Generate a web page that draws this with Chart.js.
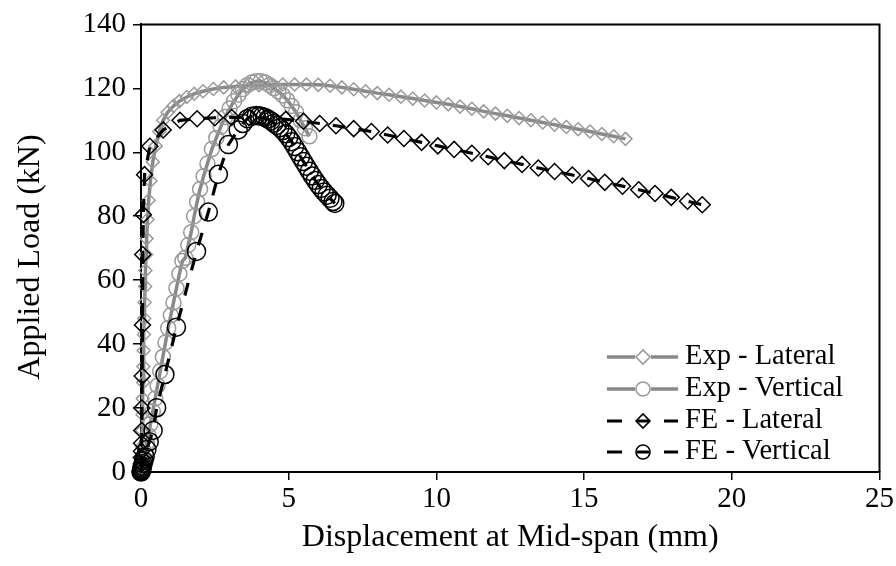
<!DOCTYPE html>
<html>
<head>
<meta charset="utf-8">
<script src="https://cdn.jsdelivr.net/npm/chart.js@4.4.1/dist/chart.umd.min.js"></script>
<style>
    html, body { margin: 0; padding: 0; background: #fff; }
</style>
</head>
<body>
<canvas id="chart" width="896" height="566"></canvas>
<script>
// series (displacement mm, load kN)
const seriesNames = ["Exp - Lateral", "Exp - Vertical", "FE - Lateral", "FE - Vertical"]

const expLatX = [0, 0.02, 0.03, 0.04, 0.05, 0.06, 0.07, 0.08, 0.09, 0.1, 0.11, 0.12, 0.14, 0.15, 0.17, 0.19, 0.22, 0.26, 0.32, 0.4, 0.5, 0.62, 0.75, 0.9, 1.1, 1.3, 1.55, 1.8, 2.1, 2.45, 2.8, 3.2, 3.6, 4.0, 4.4, 4.8, 5.2, 5.6, 6.0, 6.4, 6.8, 7.2, 7.6, 8.0, 8.4, 8.8, 9.2, 9.6, 10.0, 10.4, 10.8, 11.2, 11.6, 12.0, 12.4, 12.8, 13.2, 13.6, 14.0, 14.4, 14.8, 15.2, 15.6, 16.0, 16.4]
const expLatY = [0, 4, 8, 13, 18, 23, 28, 33, 38, 43, 48, 53, 58, 63, 68, 73, 79, 85, 91, 97, 102, 106.5, 110, 112.5, 114.5, 116, 117.3, 118.3, 119.1, 119.8, 120.3, 120.6, 120.8, 121, 121.1, 121.2, 121.2, 121.2, 121.1, 120.8, 120.3, 119.7, 119.1, 118.5, 118, 117.4, 116.8, 116.2, 115.6, 115, 114.3, 113.6, 112.8, 112.1, 111.4, 110.7, 110, 109.3, 108.6, 107.9, 107.2, 106.5, 105.7, 105, 104.2]

const expVerX = [0, 0.05, 0.1, 0.15, 0.2, 0.25, 0.32, 0.4, 0.48, 0.56, 0.65, 0.74, 0.83, 0.92, 1.01, 1.1, 1.2, 1.3, 1.4, 1.5, 1.6, 1.7, 1.8, 1.9, 2.0, 2.12, 2.25, 2.4, 2.55, 2.7, 2.85, 3.0, 3.15, 3.3, 3.45, 3.6, 3.75, 3.9, 4.05, 4.2, 4.35, 4.5, 4.65, 4.8, 4.95, 5.1, 5.25, 5.4, 5.55, 5.7]
const expVerY = [0, 1.5, 3.5, 6, 9, 11.5, 15, 19, 23, 27, 31.5, 36, 40.5, 45, 49, 53, 57.5, 62, 66, 67, 71, 75, 80, 84.5, 88.5, 92.5, 96.5, 101, 104.5, 108, 111, 113.7, 116, 118, 119.8, 121, 121.8, 122.2, 122.2, 121.8, 121, 120, 119, 117.8, 116.3, 114.5, 112.5, 110, 107.5, 105]

const feLatX = [0, 0.005, 0.01, 0.01, 0.015, 0.02, 0.025, 0.03, 0.04, 0.05, 0.06, 0.08, 0.12, 0.3, 0.75, 1.32, 1.9, 2.5, 3.07, 3.65, 4.25, 4.9, 5.5, 6.05, 6.6, 7.2, 7.8, 8.35, 8.9, 9.5, 10.05, 10.6, 11.2, 11.75, 12.3, 12.9, 13.45, 14.0, 14.6, 15.15, 15.7, 16.3, 16.85, 17.4, 17.95, 18.5, 19.0]
const feLatY = [0, 1, 2.5, 4.5, 6.5, 9, 13, 20, 30, 46, 68, 80.5, 93, 101.9, 107, 110, 110.5, 110.8, 110.9, 110.9, 110.7, 110.3, 109.7, 109, 108.3, 107.4, 106.5, 105.4, 104.3, 103.1, 102, 100.9, 99.7, 98.6, 97.4, 96.2, 95.1, 94, 92.9, 91.8, 90.6, 89.4, 88.3, 87.1, 85.9, 84.7, 83.6]

const feVerX = [0, 0.01, 0.02, 0.03, 0.05, 0.07, 0.1, 0.14, 0.2, 0.28, 0.41, 0.53, 0.81, 1.2, 1.88, 2.28, 2.62, 2.96, 3.29, 3.45, 3.6, 3.75, 3.9, 4.0, 4.1, 4.2, 4.3, 4.4, 4.5, 4.6, 4.7, 4.8, 4.9, 5.0, 5.1, 5.2, 5.3, 5.4, 5.5, 5.6, 5.7, 5.8, 5.9, 6.0, 6.1, 6.2, 6.3, 6.4, 6.5, 6.56]
const feVerY = [0, 0.3, 0.7, 1.2, 1.8, 2.6, 3.5, 4.8, 7, 9.5, 13, 20.1, 30.5, 45.3, 69, 81.3, 93.1, 102.4, 107, 109, 110.5, 111.3, 111.5, 111.4, 111.2, 110.9, 110.4, 109.8, 109.1, 108.4, 107.7, 106.8, 105.8, 104.6, 103.3, 101.8, 100.2, 98.6, 97.1, 95.6, 94.1, 92.6, 91.2, 89.9, 88.7, 87.6, 86.6, 85.6, 84.6, 84]

const xTicks = [0, 5, 10, 15, 20, 25]
const yTicks = [0, 20, 40, 60, 80, 100, 120, 140]
const xTitle = "Displacement at Mid-span (mm)"
const yTitle = "Applied Load (kN)"

const GRAY = "#898989"
const GRAY_MARK = "#9a9a9a"
const FONT = "'Liberation Serif', 'Times New Roman', serif"

const toPoints = (xs, ys) => xs.map((x, i) => ({ x: x, y: ys[i] }))

const styles = [
    { line: GRAY, mark: GRAY_MARK, width: 3.5, dash: [], shape: "rectRot", r: 6.5 },
    { line: GRAY, mark: GRAY_MARK, width: 3.5, dash: [], shape: "circle", r: 7.5 },
    { line: "#000", mark: "#000", width: 3.2, dash: [13, 13], shape: "rectRot", r: 8 },
    { line: "#000", mark: "#000", width: 3.2, dash: [13, 13], shape: "circle", r: 9 }
]
const seriesData = [
    toPoints(expLatX, expLatY),
    toPoints(expVerX, expVerY),
    toPoints(feLatX, feLatY),
    toPoints(feVerX, feVerY)
]

// box on top/right, y title and an Excel-like legend
const frameAndLegend = {
    id: "frameAndLegend",
    afterDraw(chart) {
        const ctx = chart.ctx
        const a = chart.chartArea
        ctx.save()
        ctx.strokeStyle = "#000"
        ctx.lineWidth = 2
        ctx.beginPath()
        ctx.moveTo(a.left, a.top)
        ctx.lineTo(a.right, a.top)
        ctx.lineTo(a.right, a.bottom)
        ctx.stroke()

        // y axis title, sits a bit below the middle like in Excel
        ctx.save()
        ctx.translate(31, 257)
        ctx.rotate(-Math.PI / 2)
        ctx.font = "32px " + FONT
        ctx.textAlign = "center"
        ctx.textBaseline = "middle"
        ctx.fillStyle = "#000"
        ctx.fillText(yTitle, 0, 0)
        ctx.restore()

        const rowsY = [357, 389, 421, 452]
        const x0 = 607, x1 = 678, xm = 643
        ctx.font = "28.5px " + FONT
        ctx.textBaseline = "middle"
        ctx.textAlign = "left"
        for (let i = 0; i < seriesNames.length; i++) {
            const s = styles[i]
            const y = rowsY[i]
            ctx.strokeStyle = s.line
            ctx.lineWidth = s.width
            ctx.lineCap = "butt"
            ctx.beginPath()
            if (s.dash.length == 0) {
                ctx.moveTo(x0, y); ctx.lineTo(xm - 8, y)
                ctx.moveTo(xm + 8, y); ctx.lineTo(x1, y)
            } else {
                ctx.moveTo(x0, y); ctx.lineTo(x0 + 15, y)
                ctx.moveTo(xm - 6, y); ctx.lineTo(xm + 6, y)
                ctx.moveTo(x1 - 14, y); ctx.lineTo(x1, y)
            }
            ctx.stroke()
            ctx.fillStyle = s.dash.length == 0 ? "#fff" : "rgba(0,0,0,0)"
            ctx.strokeStyle = s.mark
            ctx.lineWidth = 1.6
            Chart.helpers.drawPoint(ctx, { pointStyle: s.shape, radius: 7, borderWidth: 1.6, rotation: 0 }, xm, y)
            ctx.fillStyle = "#000"
            ctx.fillText(seriesNames[i], 685, y)
        }
        ctx.restore()
    }
}

new Chart(document.getElementById("chart"), {
    type: "scatter",
    data: {
        datasets: seriesNames.map((name, i) => ({
            label: name,
            data: seriesData[i],
            showLine: true,
            borderColor: styles[i].line,
            borderWidth: styles[i].width,
            borderDash: styles[i].dash,
            tension: 0,
            pointStyle: styles[i].shape,
            pointRadius: styles[i].r,
            pointBorderColor: styles[i].mark,
            pointBackgroundColor: "rgba(0,0,0,0)",
            pointBorderWidth: 1.5,
            clip: false,
            order: 3 - i
        }))
    },
    options: {
        responsive: false,
        animation: false,
        layout: { padding: { left: 0, top: 18, right: 16, bottom: 0 } },
        plugins: { legend: { display: false }, tooltip: { enabled: false } },
        scales: {
            x: {
                type: "linear",
                min: xTicks[0],
                max: xTicks[xTicks.length - 1],
                afterFit: (scale) => { scale.height = 94 },
                afterBuildTicks: (scale) => { scale.ticks = xTicks.map(v => ({ value: v })) },
                border: { display: true, color: "#000", width: 2 },
                grid: { display: true, drawOnChartArea: false, drawTicks: true, tickLength: 8, color: "#000", lineWidth: 1.5 },
                ticks: { color: "#000", font: { family: FONT, size: 29 }, padding: 2, maxRotation: 0 },
                title: { display: true, text: xTitle, color: "#000", font: { family: FONT, size: 32 }, padding: { top: 0, bottom: 9 } }
            },
            y: {
                type: "linear",
                min: yTicks[0],
                max: yTicks[yTicks.length - 1],
                afterFit: (scale) => { scale.width = 141 },
                afterBuildTicks: (scale) => { scale.ticks = yTicks.map(v => ({ value: v })) },
                border: { display: true, color: "#000", width: 2 },
                grid: { display: true, drawOnChartArea: false, drawTicks: true, tickLength: 8, color: "#000", lineWidth: 1.5 },
                ticks: { color: "#000", font: { family: FONT, size: 29 }, padding: 7 },
                title: { display: false }
            }
        }
    },
    plugins: [frameAndLegend]
})
</script>
</body>
</html>
